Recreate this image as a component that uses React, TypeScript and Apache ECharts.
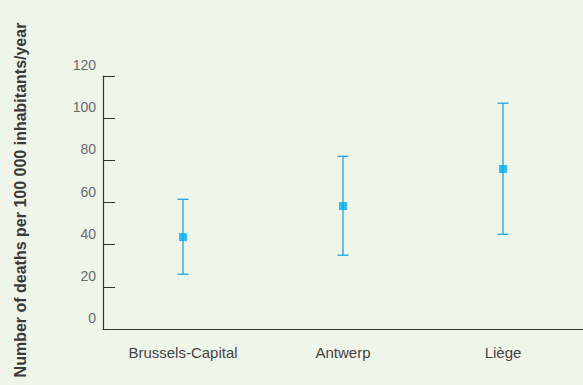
import React, { useEffect, useRef } from "react";
import * as echarts from "echarts";

const categories = ["Brussels-Capital", "Antwerp", "Liège"];
const meanValues = [43.6, 58.3, 75.9];
const lowerValues = [26.0, 35.0, 44.9];
const upperValues = [61.5, 81.9, 107.1];
const yTicks = { min: 0, max: 120, interval: 20 };
const yTitle = "Number of deaths per 100 000 inhabitants/year";

export default function App() {
  const ref = useRef<HTMLDivElement>(null);
  useEffect(() => {
    document.body.style.margin = "0";
    const chart = echarts.init(ref.current!, null, { renderer: "svg" });
    const errData = categories.map((_, i) => [i, lowerValues[i], upperValues[i]]);
    chart.setOption({
      animation: false,
      backgroundColor: "#F0F5E9",
      textStyle: { fontFamily: "Liberation Sans, Arial, sans-serif" },
      grid: { left: 103, right: 0, top: 76, bottom: 56 },
      xAxis: {
        type: "category",
        data: categories,
        axisLine: { lineStyle: { color: "#333", width: 1.2 } },
        axisTick: { inside: true, alignWithLabel: true, length: 6, lineStyle: { color: "#333" } },
        axisLabel: { color: "#444", fontSize: 15, margin: 16 },
        splitLine: { show: false },
      },
      yAxis: {
        type: "value",
        min: yTicks.min,
        max: yTicks.max,
        interval: yTicks.interval,
        axisLine: { show: true, lineStyle: { color: "#333", width: 1.2 } },
        axisTick: { show: true, inside: true, length: 12, lineStyle: { color: "#333" } },
        axisLabel: {
          color: "#6a6a6a",
          fontSize: 14,
          margin: 7,
          verticalAlign: "bottom",
          padding: [0, 0, 4, 0],
        },
        splitLine: { show: false },
      },
      graphic: [
        {
          type: "text",
          x: 20,
          y: 200,
          rotation: Math.PI / 2,
          style: {
            text: yTitle,
            fontSize: 16,
            fontWeight: "bold",
            fill: "#3a3a3a",
            align: "center",
            verticalAlign: "middle",
            fontFamily: "Liberation Sans, Arial, sans-serif",
          },
        },
      ],
      series: [
        {
          type: "custom",
          data: errData,
          renderItem: (params: any, api: any) => {
            const x = api.value(0);
            const lo = api.coord([x, api.value(1)]);
            const hi = api.coord([x, api.value(2)]);
            const half = 5.5;
            const style = { stroke: "#29ABE2", lineWidth: 1.4 };
            return {
              type: "group",
              children: [
                { type: "line", shape: { x1: lo[0], y1: lo[1], x2: hi[0], y2: hi[1] }, style },
                { type: "line", shape: { x1: lo[0] - half, y1: lo[1], x2: lo[0] + half, y2: lo[1] }, style },
                { type: "line", shape: { x1: hi[0] - half, y1: hi[1], x2: hi[0] + half, y2: hi[1] }, style },
              ],
            };
          },
          z: 2,
        },
        {
          type: "scatter",
          data: meanValues,
          symbol: "rect",
          symbolSize: 8,
          itemStyle: { color: "#00AEEF" },
          z: 3,
        },
      ],
    });
    return () => chart.dispose();
  }, []);
  return <div ref={ref} style={{ width: 583, height: 385 }} />;
}
